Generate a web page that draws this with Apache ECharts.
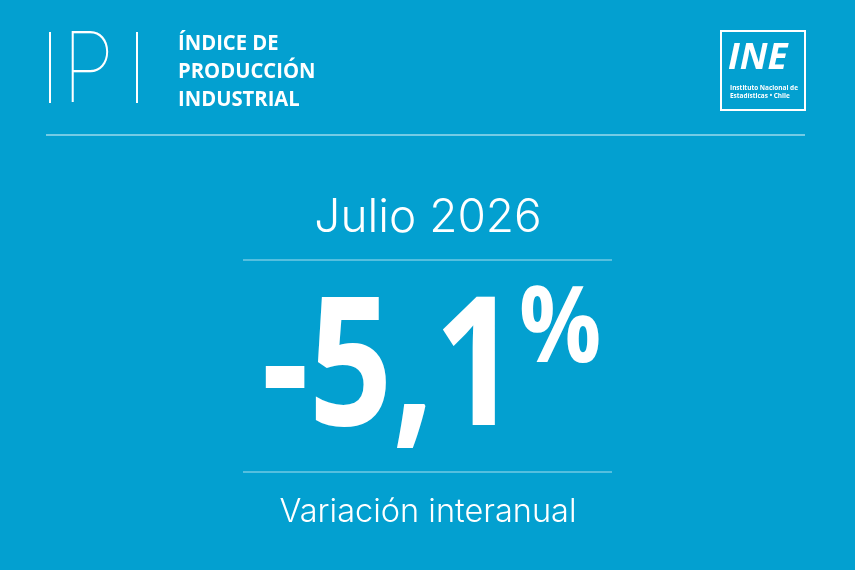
<!DOCTYPE html>
<html><head><meta charset="utf-8">
<script src="https://cdn.jsdelivr.net/npm/echarts@6/dist/echarts.min.js"></script>
<style>html,body{margin:0;padding:0;background:#03a0d0}#c{width:855px;height:570px}</style>
</head><body><div id="c"></div>
<script>
const indicator = "IPI";
const titleLines = ["ÍNDICE DE", "PRODUCCIÓN", "INDUSTRIAL"];
const periods = ["Julio 2026"];
const values = [-5.1];
const valueUnit = "%";
const measureLabels = ["Variación interanual"];
const logoLines = ["Instituto Nacional de", "Estadísticas • Chile"];

const chart = echarts.init(document.getElementById('c'), null, {renderer: 'canvas'});
const fmt = v => v.toFixed(1).replace('.', ',');
const white = '#ffffff';
const g = [];
// IPI mark
g.push({type:'line', shape:{x1:50,y1:32,x2:50,y2:103}, style:{stroke:white, lineWidth:2}});
g.push({type:'line', shape:{x1:137,y1:32,x2:137,y2:103}, style:{stroke:white, lineWidth:2}});
g.push({type:'text', x:62, y:24, scaleX:0.88, style:{text:indicator.charAt(1), fill:white, font:'100 98px Inter', textVerticalAlign:'top'}});
titleLines.forEach((t,i)=>{
  g.push({type:'text', x:178, y:33+i*28, scaleX:0.92, style:{text:t, fill:white, font:'bold 22px "Open Sans"', textVerticalAlign:'top'}});
});
// header rule
g.push({type:'line', shape:{x1:46,y1:135,x2:805,y2:135}, style:{stroke:'rgba(255,255,255,0.9)', lineWidth:1.2}});
// logo
g.push({type:'rect', shape:{x:721,y:31,width:84,height:79}, style:{fill:'none', stroke:white, lineWidth:2}});
g.push({type:'text', x:728, y:42, scaleX:1.05, style:{text:'INE', fill:white, font:'italic bold 35px "Open Sans"', textVerticalAlign:'top'}});
logoLines.forEach((t,i)=>{
  g.push({type:'text', x:730, y:84+i*8, scaleX:0.86, style:{text:t, fill:white, font:'bold 7.5px "Open Sans"', textVerticalAlign:'top'}});
});
// period
g.push({type:'text', x:428, y:218, style:{text:periods[0], fill:white, font:'300 46px Inter', textAlign:'center', textVerticalAlign:'middle'}});
g.push({type:'line', shape:{x1:243,y1:260,x2:612,y2:260}, style:{stroke:'rgba(255,255,255,0.65)', lineWidth:1}});
// value
g.push({type:'text', x:518, y:284, scaleX:0.814, style:{text:fmt(values[0]), fill:white, font:'bold 180px "Open Sans"', textAlign:'right', textVerticalAlign:'top'}});
g.push({type:'text', x:519, y:280, scaleX:0.87, style:{text:valueUnit, fill:white, font:'bold 105px "Open Sans"', textAlign:'left', textVerticalAlign:'top'}});
g.push({type:'line', shape:{x1:243,y1:472,x2:612,y2:472}, style:{stroke:'rgba(255,255,255,0.65)', lineWidth:1}});
g.push({type:'text', x:428, y:512, style:{text:measureLabels[0], fill:white, font:'300 32.5px Inter', textAlign:'center', textVerticalAlign:'middle'}});

chart.setOption({backgroundColor:'#03a0d0', animation:false, graphic:{elements:g}});
</script></body></html>
